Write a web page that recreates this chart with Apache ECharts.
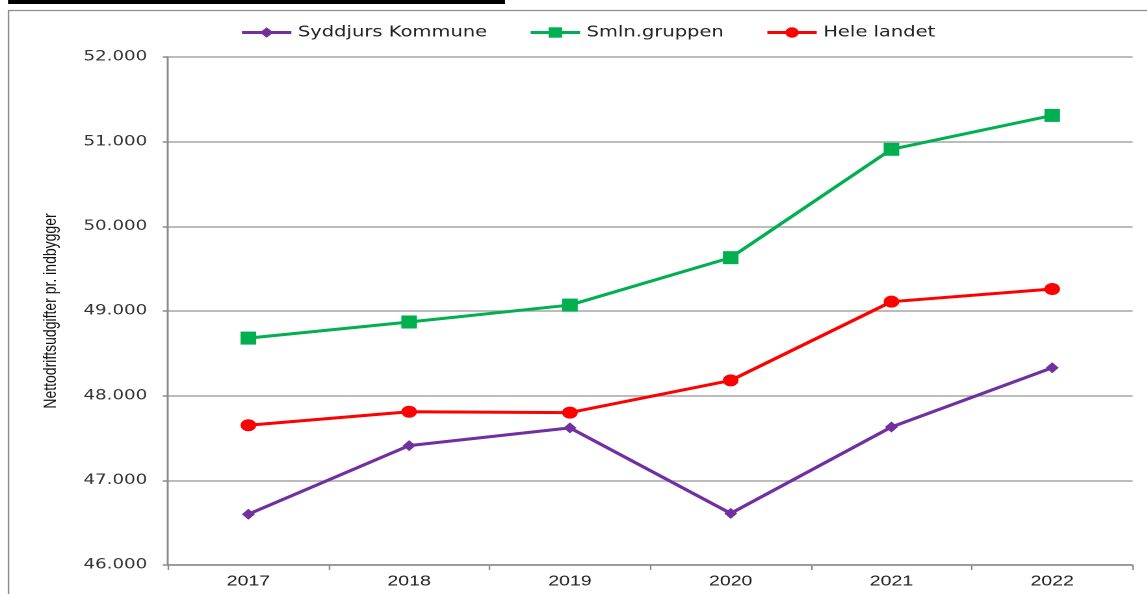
<!DOCTYPE html>
<html>
<head>
<meta charset="utf-8">
<script src="https://cdn.jsdelivr.net/npm/echarts@6/dist/echarts.min.js"></script>
<style>
  html, body { margin: 0; padding: 0; background: #fff; overflow: hidden; }
  /* originalen er strakt vandret, saa vi tegner smallere og skalerer op */
  #chart { width: 882px; height: 594px; transform: scaleX(1.3); transform-origin: 0 0; }
</style>
</head>
<body>
<div id="chart"></div>
<script>
const years = ['2017', '2018', '2019', '2020', '2021', '2022']
const syddjurs = [46600, 47410, 47620, 46610, 47630, 48330]
const smln = [48680, 48870, 49070, 49630, 50910, 51310]
const heleLandet = [47650, 47810, 47800, 48180, 49110, 49260]

const S = 1.3
const chart = echarts.init(document.getElementById('chart'), null, { devicePixelRatio: 2 })

// dansk tusindtalsseparator
const fmt = v => String(v).replace(/\B(?=(\d{3})+(?!\d))/g, '.')

chart.setOption({
  animation: false,
  backgroundColor: '#fff',
  graphic: [
    { type: 'rect', shape: { x: 8 / S, y: 0, width: 497 / S, height: 4 }, style: { fill: '#000' } },
    { type: 'rect', shape: { x: 8.5 / S, y: 10.5, width: 900, height: 600 }, style: { fill: null, stroke: '#8c8c8c', lineWidth: 1.2 } }
  ],
  legend: {
    top: 20,
    left: 240 / S - 5,
    itemWidth: 38,
    itemHeight: 13,
    itemGap: 32,
    lineStyle: { width: 3 },
    textStyle: { fontFamily: 'DejaVu Sans', fontSize: 15, color: '#222' },
    data: ['Syddjurs Kommune', 'Smln.gruppen', 'Hele landet']
  },
  grid: { left: 168 / S, right: 14 / S, top: 57, bottom: 29 },
  xAxis: {
    type: 'category',
    data: years,
    boundaryGap: true,
    axisLine: { lineStyle: { color: '#8c8c8c', width: 1.5 } },
    axisTick: { show: true, length: 5, lineStyle: { color: '#8c8c8c', width: 1.2 } },
    axisLabel: { fontFamily: 'Liberation Sans', fontSize: 15, color: '#222', margin: 9 }
  },
  yAxis: {
    type: 'value',
    min: 46000,
    max: 52000,
    interval: 1000,
    name: 'Nettodriftsudgifter pr. indbygger',
    nameLocation: 'middle',
    nameGap: 83,
    nameRotate: 90,
    nameTextStyle: { fontFamily: 'Liberation Sans', fontSize: 14, color: '#111' },
    axisLine: { show: true, lineStyle: { color: '#8c8c8c', width: 1.5 } },
    axisTick: { show: true, length: 4, lineStyle: { color: '#8c8c8c', width: 1.5 } },
    splitLine: { lineStyle: { color: '#a6a6a6', width: 1.5 } },
    axisLabel: { fontFamily: 'DejaVu Sans', fontSize: 14, color: '#333', margin: 16, formatter: fmt }
  },
  series: [
    {
      name: 'Syddjurs Kommune',
      type: 'line',
      data: syddjurs,
      color: '#7030a0',
      lineStyle: { width: 3 },
      symbol: 'diamond',
      symbolSize: [10, 11],
      itemStyle: { color: '#7030a0' },
      z: 3
    },
    {
      name: 'Smln.gruppen',
      type: 'line',
      data: smln,
      color: '#00b050',
      lineStyle: { width: 3 },
      symbol: 'rect',
      symbolSize: [12, 13],
      itemStyle: { color: '#00b050' },
      z: 2
    },
    {
      name: 'Hele landet',
      type: 'line',
      data: heleLandet,
      color: '#ff0000',
      lineStyle: { width: 3 },
      symbol: 'circle',
      symbolSize: [12, 12],
      itemStyle: { color: '#ff0000' },
      z: 2
    }
  ]
})
</script>
</body>
</html>
